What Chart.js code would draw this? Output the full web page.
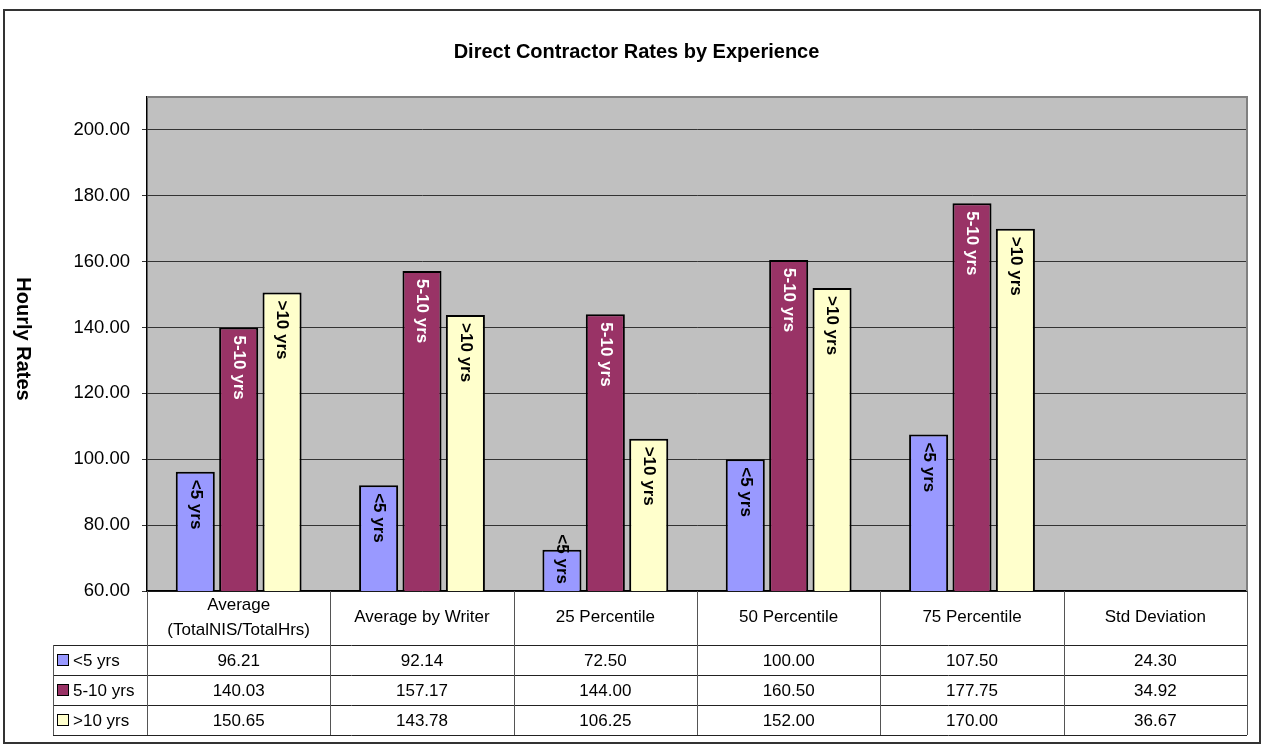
<!DOCTYPE html>
<html>
<head>
<meta charset="utf-8">
<title>Direct Contractor Rates by Experience</title>
<script src="https://cdn.jsdelivr.net/npm/chart.js@4/dist/chart.umd.min.js"></script>
<style>
  html, body { margin: 0; padding: 0; background: #fff; }
  canvas { display: block; }
</style>
</head>
<body>
<canvas id="rates" width="1262" height="744"></canvas>
<script>
// chart data
var categories = [['Average', '(TotalNIS/TotalHrs)'], 'Average by Writer', '25 Percentile', '50 Percentile', '75 Percentile', 'Std Deviation'];
var seriesNames = ['<5 yrs', '5-10 yrs', '>10 yrs'];
var under5 = [96.21, 92.14, 72.50, 100.00, 107.50, 24.30];
var fiveTo10 = [140.03, 157.17, 144.00, 160.50, 177.75, 34.92];
var over10 = [150.65, 143.78, 106.25, 152.00, 170.00, 36.67];
var yMin = 60;
var yMax = 210;
var yStep = 20;

var seriesColors = ['#9999FF', '#993366', '#FFFFCC'];
var labelColors = ['#000000', '#FFFFFF', '#000000'];
var FONT = "'Liberation Sans', Arial, sans-serif";

Chart.defaults.font.family = FONT;
Chart.defaults.color = '#000';

// gray plot area, outer frame, axis title and the data table under the chart
var excelFrame = {
  id: 'excelFrame',
  beforeDraw: function (chart) {
    var ctx = chart.ctx, a = chart.chartArea;
    ctx.save();
    ctx.fillStyle = '#fff';
    ctx.fillRect(0, 0, chart.width, chart.height);
    ctx.fillStyle = '#C0C0C0';
    ctx.fillRect(a.left, a.top, a.right - a.left, a.bottom - a.top);
    ctx.restore();
  },
  afterDraw: function (chart) {
    var ctx = chart.ctx, a = chart.chartArea;
    var xs = chart.scales.x;
    ctx.save();

    // outer chart border
    ctx.strokeStyle = '#333';
    ctx.lineWidth = 2;
    ctx.strokeRect(4, 10, 1256, 733);

    // plot area top / right edge
    ctx.strokeStyle = '#808080';
    ctx.lineWidth = 2;
    ctx.beginPath();
    ctx.moveTo(a.left, a.top);
    ctx.lineTo(a.right, a.top);
    ctx.lineTo(a.right, a.bottom);
    ctx.stroke();

    // y axis title, reads top to bottom
    ctx.save();
    ctx.translate(23, 339);
    ctx.rotate(Math.PI / 2);
    ctx.font = 'bold 20px ' + FONT;
    ctx.fillStyle = '#000';
    ctx.textAlign = 'center';
    ctx.textBaseline = 'middle';
    ctx.fillText('Hourly Rates', 0, 0);
    ctx.restore();

    // data table
    var rowTop = a.bottom + 54;
    var rowH = 30;
    var keyLeft = 53;
    var nRows = chart.data.datasets.length;
    var half = (xs.getPixelForValue(1) - xs.getPixelForValue(0)) / 2;

    ctx.strokeStyle = '#222';
    ctx.lineWidth = 1;
    for (var r = 0; r <= nRows; r++) {
      var y = Math.round(rowTop + r * rowH) + 0.5;
      ctx.beginPath();
      ctx.moveTo(keyLeft, y);
      ctx.lineTo(a.right, y);
      ctx.stroke();
    }
    ctx.strokeStyle = '#555';
    ctx.beginPath();
    ctx.moveTo(keyLeft + 0.5, rowTop);
    ctx.lineTo(keyLeft + 0.5, rowTop + nRows * rowH);
    ctx.stroke();
    for (var c = 0; c <= categories.length; c++) {
      var x = c < categories.length ? xs.getPixelForValue(c) - half : xs.getPixelForValue(c - 1) + half;
      x = Math.round(x) + 0.5;
      ctx.beginPath();
      ctx.moveTo(x, a.bottom);
      ctx.lineTo(x, rowTop + nRows * rowH);
      ctx.stroke();
    }

    ctx.font = '17px ' + FONT;
    ctx.textBaseline = 'middle';
    chart.data.datasets.forEach(function (ds, d) {
      var cy = rowTop + d * rowH + rowH / 2;
      // legend key
      ctx.fillStyle = ds.backgroundColor;
      ctx.fillRect(57.5, cy - 5.5, 11, 11);
      ctx.strokeStyle = '#000';
      ctx.lineWidth = 1;
      ctx.strokeRect(57.5, cy - 5.5, 11, 11);
      ctx.fillStyle = '#000';
      ctx.textAlign = 'left';
      ctx.fillText(ds.label, 73, cy + 1);
      // values
      ctx.textAlign = 'center';
      ds.data.forEach(function (v, i) {
        ctx.fillText(v.toFixed(2), xs.getPixelForValue(i), cy + 1);
      });
    });
    ctx.restore();
  }
};

// series name written down inside the top of each bar
var barLabels = {
  id: 'barLabels',
  afterDatasetsDraw: function (chart) {
    var ctx = chart.ctx;
    var ys = chart.scales.y;
    ctx.save();
    ctx.font = 'bold 17px ' + FONT;
    chart.data.datasets.forEach(function (ds, d) {
      var meta = chart.getDatasetMeta(d);
      meta.data.forEach(function (bar, i) {
        if (ds.data[i] <= ys.min) {
          return;
        }
        var p = bar.getProps(['x', 'y', 'base'], true);
        var base = Math.min(p.base, ys.bottom);
        var w = ctx.measureText(ds.label).width;
        var start = Math.min(p.y + 8, base - 7 - w);
        ctx.save();
        ctx.translate(p.x, start);
        ctx.rotate(Math.PI / 2);
        ctx.textAlign = 'left';
        ctx.textBaseline = 'middle';
        ctx.fillStyle = labelColors[d];
        ctx.fillText(ds.label, 0, 0);
        ctx.restore();
      });
    });
    ctx.restore();
  }
};

var seriesData = [under5, fiveTo10, over10];
var datasets = seriesNames.map(function (name, i) {
  return {
    label: name,
    data: seriesData[i],
    backgroundColor: seriesColors[i],
    borderColor: '#000',
    borderWidth: 2,
    borderSkipped: false,
    clip: 0
  };
});

var config = {
  type: 'bar',
  data: {
    labels: categories,
    datasets: datasets
  },
  options: {
    responsive: false,
    animation: false,
    layout: {
      padding: { left: 26, right: 15, top: 0, bottom: 0 }
    },
    datasets: {
      bar: { categoryPercentage: 0.71, barPercentage: 0.9 }
    },
    plugins: {
      legend: { display: false },
      tooltip: { enabled: false },
      title: {
        display: true,
        text: 'Direct Contractor Rates by Experience',
        color: '#000',
        font: { size: 20, weight: 'bold' },
        padding: { top: 40, bottom: 33 }
      }
    },
    scales: {
      x: {
        grid: { display: false, drawTicks: false },
        border: { display: true, color: '#000', width: 1.5 },
        ticks: {
          autoSkip: false,
          maxRotation: 0,
          minRotation: 0,
          crossAlign: 'center',
          padding: 14,
          color: '#000',
          font: { size: 17, lineHeight: 25 / 17 }
        },
        afterFit: function (scale) { scale.height = 153; }
      },
      y: {
        min: yMin,
        max: yMax,
        ticks: {
          stepSize: yStep,
          includeBounds: false,
          padding: 12,
          color: '#000',
          font: { size: 18.5 },
          callback: function (v) { return v.toFixed(2); }
        },
        grid: { color: '#333', lineWidth: 1, tickLength: 5, drawTicks: true },
        border: { display: true, color: '#000', width: 1.5 },
        afterFit: function (scale) { scale.width = 121; }
      }
    }
  },
  plugins: [excelFrame, barLabels]
};

new Chart(document.getElementById('rates').getContext('2d'), config);
</script>
</body>
</html>
